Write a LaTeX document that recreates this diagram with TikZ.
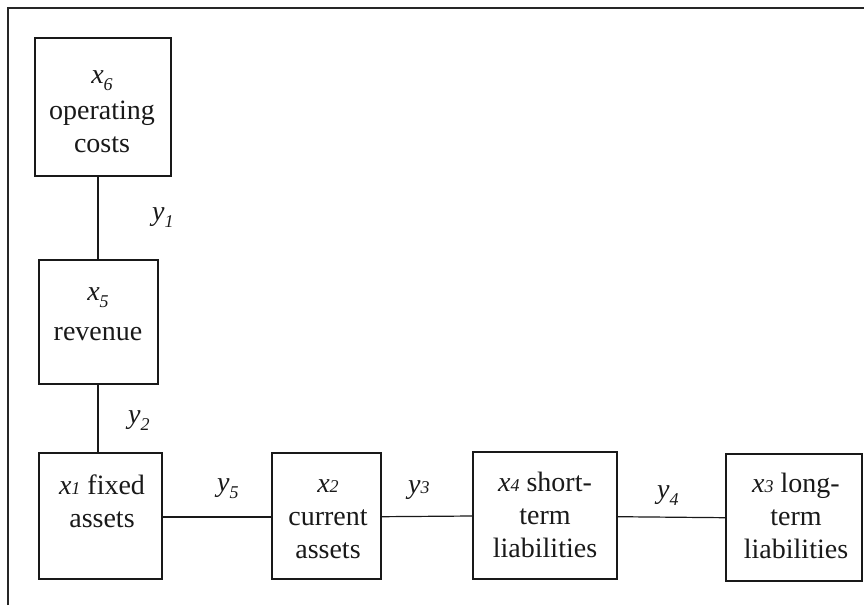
\documentclass[tikz,border=0pt]{standalone}
\usepackage{fontspec}
\setmainfont{Liberation Serif}
\newcommand{\lowsub}[1]{\raisebox{-7pt}{\fontsize{18}{18}\selectfont\itshape #1}}
\newcommand{\insub}[1]{{\fontsize{18}{18}\selectfont\itshape #1}}
\begin{document}
\begin{tikzpicture}[x=1pt,y=-1pt,
  box/.style={draw=black!90,line width=1.8pt,inner sep=0pt},
  conn/.style={draw=black!90,line width=1.2pt},
  frameline/.style={draw=black!85,line width=1.5pt},
  txt/.style={font=\fontsize{28}{33}\selectfont,align=center,inner sep=0pt,anchor=base,text=black!90},
  lab/.style={font=\fontsize{28}{33}\selectfont,inner sep=0pt,anchor=base west,text=black!90}]
\useasboundingbox (0,0) rectangle (864,605);
% frame
\coordinate (fb) at (8,605);
\coordinate (ft) at (8,8);
\coordinate (fr) at (864,8);
\draw[frameline] (fb) -- (ft) -- (fr);
% boxes
\node[box,minimum width=136pt,minimum height=138pt] (b6) at (103,107) {};
\node[box,minimum width=119pt,minimum height=124pt] (b5) at (98.5,322) {};
\node[box,minimum width=123pt,minimum height=126pt] (b1) at (100.5,516) {};
\node[box,minimum width=109pt,minimum height=126pt] (b2) at (326.5,516) {};
\node[box,minimum width=144pt,minimum height=127pt] (b4) at (545,515.5) {};
\node[box,minimum width=136pt,minimum height=127pt] (b3) at (794,517.5) {};
% texts
\node[txt] (t6) at (102,152) {\textit{x}\lowsub{6}\\[3pt]operating\\costs};
\node[txt] (t5) at (98,340) {\textit{x}\lowsub{5}\\[7pt]revenue};
\node[txt] (t1) at (102,527) {\textit{x}\insub{1} fixed\\assets};
\node[txt] (t2) at (328,558) {\textit{x}\insub{2}\\current\\assets};
\node[txt] (t4) at (545,557) {\textit{x}\insub{4} short-\\term\\liabilities};
\node[txt] (t3) at (796,558) {\textit{x}\insub{3} long-\\term\\liabilities};
% connectors
\draw[conn] (b6.south -| 98,0) -- (b5.north -| 98,0);
\draw[conn] (b5.south -| 98,0) -- (b1.north -| 98,0);
\draw[conn] (b1.east |- 0,517) -- (b2.west |- 0,517);
\draw[conn] (b2.east |- 0,516.7) -- (b4.west |- 0,516);
\draw[conn] (b4.east |- 0,516.7) -- (b3.west |- 0,517.7);
% labels
\node[lab] (y1) at (152,220) {\textit{y}\lowsub{1}};
\node[lab] (y2) at (128,423) {\textit{y}\lowsub{2}};
\node[lab] (y5) at (217,491) {\textit{y}\lowsub{5}};
\node[lab] (y3) at (408,493) {\textit{y}\insub{3}};
\node[lab] (y4) at (657,498) {\textit{y}\lowsub{4}};
\end{tikzpicture}
\end{document}
